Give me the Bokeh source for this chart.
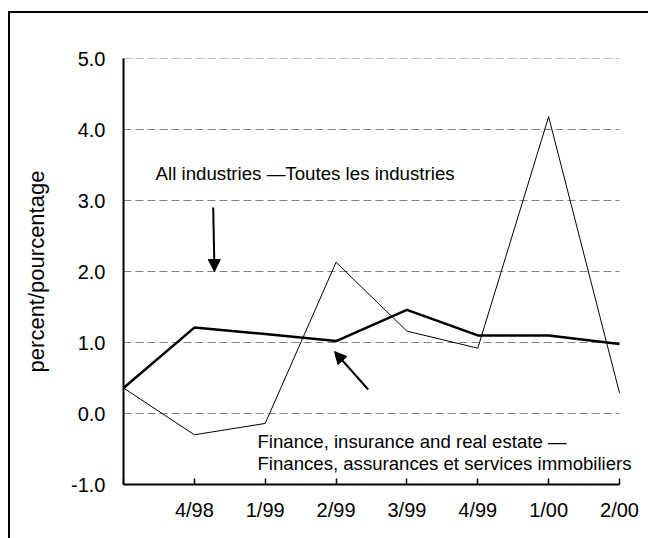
from bokeh.plotting import figure
from bokeh.models import (Arrow, NormalHead, Label, FixedTicker,
                          NumeralTickFormatter, Range1d, InlineStyleSheet)
from bokeh.embed import file_html
from bokeh.resources import INLINE

# ---- data ----
periods = ["", "4/98", "1/99", "2/99", "3/99", "4/99", "1/00", "2/00"]
all_industries = [0.36, 1.21, 1.12, 1.02, 1.46, 1.10, 1.10, 0.98]
finance = [0.36, -0.30, -0.14, 2.13, 1.16, 0.92, 4.18, 0.29]
y_ticks = [-1, 0, 1, 2, 3, 4, 5]
y_title = "percent/pourcentage"
label_all = "All industries \u2014Toutes les industries"
label_fin_1 = "Finance, insurance and real estate \u2014"
label_fin_2 = "Finances, assurances et services immobiliers"

FONT = "Liberation Sans"
xs = list(range(len(periods)))

# layout: axis area 496 px wide, plus 21 px of free room on the right for text
AXIS_W = 496
EXTRA_R = 21
x_end = xs[-1] + EXTRA_R * (xs[-1] - xs[0]) / AXIS_W

p = figure(width=648, height=538,
           x_range=Range1d(xs[0], x_end), y_range=Range1d(y_ticks[0], y_ticks[-1]),
           output_backend="svg", toolbar_location=None,
           min_border_left=123, min_border_right=8,
           min_border_top=58, min_border_bottom=54)
p.outline_line_color = None
p.background_fill_color = "white"
p.border_fill_color = "white"

# axes
p.xaxis.bounds = (xs[0], xs[-1])
p.xaxis.ticker = FixedTicker(ticks=xs)
p.xaxis.major_label_overrides = {x: lab for x, lab in zip(xs, periods)}
p.xaxis.major_tick_in = 6
p.xaxis.major_tick_out = 0
p.xaxis.minor_tick_line_color = None
p.xaxis.axis_line_width = 2
p.xaxis.major_tick_line_width = 1.5
p.xaxis.major_label_standoff = 14
p.xaxis.major_label_text_font = FONT
p.xaxis.major_label_text_font_size = "20px"
p.xaxis.major_label_text_color = "black"

p.yaxis.ticker = FixedTicker(ticks=y_ticks)
p.yaxis.formatter = NumeralTickFormatter(format="0.0")
p.yaxis.major_tick_in = 0
p.yaxis.major_tick_out = 0
p.yaxis.minor_tick_line_color = None
p.yaxis.axis_line_width = 2
p.yaxis.major_label_standoff = 18
p.yaxis.major_label_text_font = FONT
p.yaxis.major_label_text_font_size = "20px"
p.yaxis.major_label_text_color = "black"
p.yaxis.axis_label = y_title
p.yaxis.axis_label_text_font = FONT
p.yaxis.axis_label_text_font_size = "22px"
p.yaxis.axis_label_text_font_style = "normal"
p.yaxis.axis_label_text_color = "black"
p.yaxis.axis_label_standoff = 19

# dashed horizontal grid lines, only across the axis span
p.xgrid.visible = False
p.ygrid.visible = False
grid_levels = y_ticks[1:]
p.segment(x0=[xs[0]] * len(grid_levels), x1=[xs[-1]] * len(grid_levels),
          y0=grid_levels, y1=grid_levels,
          line_color="#808080", line_dash="8 4", line_width=1)

# series
p.line(xs, finance, line_color="black", line_width=1)
p.line(xs, all_industries, line_color="black", line_width=2.5)

# annotations
p.add_layout(Arrow(end=NormalHead(size=12, fill_color="black", line_color="black"),
                   x_start=1.266, y_start=2.90, x_end=1.284, y_end=2.0,
                   line_width=2, line_color="black"))
p.add_layout(Arrow(end=NormalHead(size=12, fill_color="black", line_color="black"),
                   x_start=3.453, y_start=0.338, x_end=2.978, y_end=0.873,
                   line_width=2, line_color="black"))

for txt, x, y, fs in [(label_all, 0.452, 3.38, "18.7px"),
                      (label_fin_1, 1.891, -0.40, "18.6px"),
                      (label_fin_2, 1.891, -0.71, "18.6px")]:
    p.add_layout(Label(x=x, y=y, text=txt, text_font=FONT, text_font_size=fs,
                       text_baseline="alphabetic", text_color="black"))

# outer frame (cropped on right/bottom in the original)
p.stylesheets = [InlineStyleSheet(css="""
:host { position: relative; overflow: hidden; }
:host::after {
  content: "";
  position: absolute;
  left: 8px; top: 11px;
  width: 2000px; height: 2000px;
  border-left: 2px solid black; border-top: 2px solid black;
  box-sizing: border-box;
  pointer-events: none;
  z-index: 100;
}
""")]

open("out.html", "w").write(file_html(p, INLINE))
